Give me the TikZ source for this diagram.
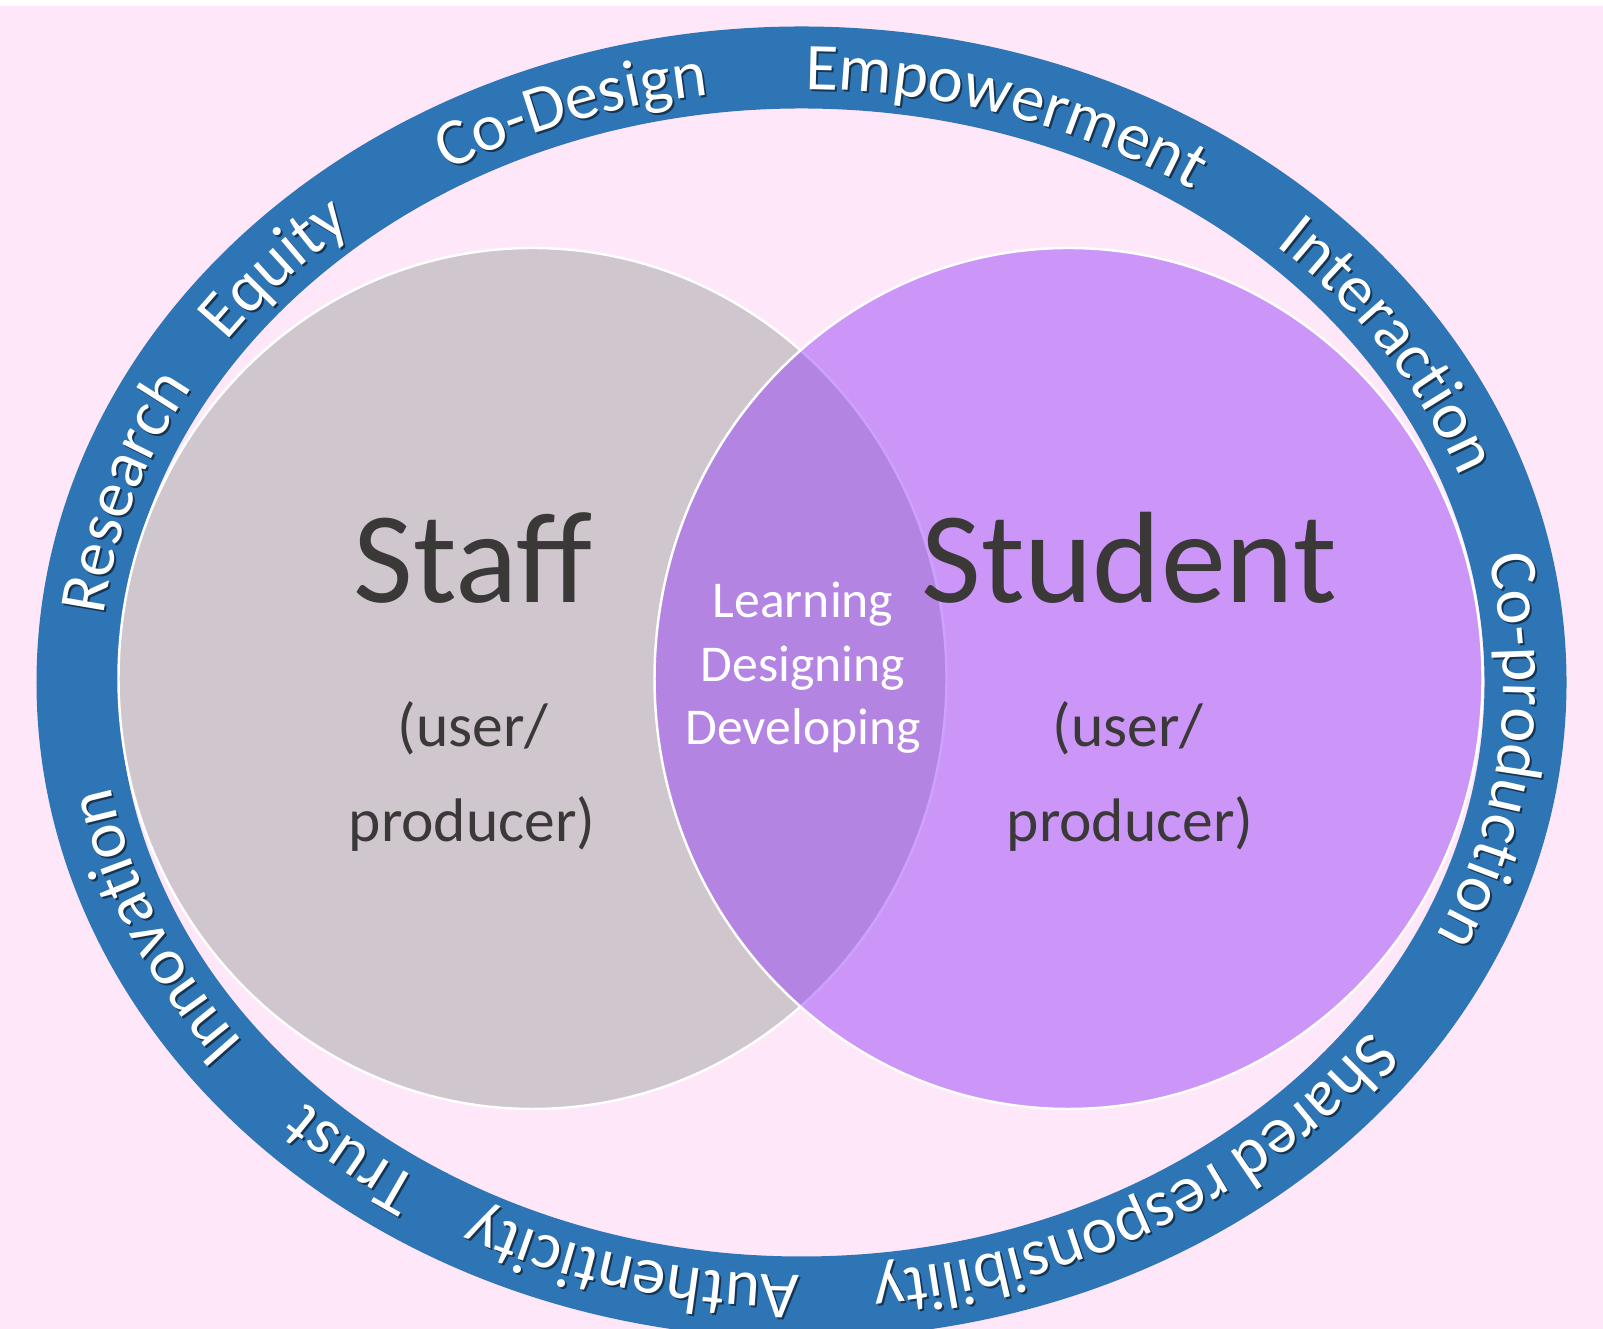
\documentclass[tikz,border=0pt]{standalone}
\usepackage{fontspec}
\setmainfont{Carlito}
\usetikzlibrary{shapes.geometric}
\usetikzlibrary{decorations.text}

\definecolor{bgpink}{HTML}{FDE7F8}
\definecolor{ringblue}{HTML}{2E75B6}
\definecolor{staffgrey}{HTML}{D0C6CE}
\definecolor{studentpurple}{HTML}{973EFA}
\definecolor{darktext}{HTML}{3B3838}

\newcommand{\ringfont}{\fontsize{19}{19}\selectfont}
\newcommand{\ringword}[2]{%
  \path[ringshadow={#2}] (#1+30:7.02 and 5.93) arc[start angle=#1+30, end angle=#1-30, x radius=7.02, y radius=5.93];
  \path[ringtext={#2}] (#1+30:7.02 and 5.93) arc[start angle=#1+30, end angle=#1-30, x radius=7.02, y radius=5.93];
}

\tikzset{
  ringtext/.style={decorate, decoration={text along path, text={|\ringfont|#1}, text align=center, text color=white}},
  ringshadow/.style={xshift=0.2mm, yshift=-0.2mm, decorate, decoration={text along path, text={|\ringfont|#1}, text align=center, text color=ringblue!45!black}},
  venn/.style={ellipse, draw=white, line width=0.7pt, inner sep=0pt, minimum width=8.28cm, minimum height=8.61cm},
  biglabel/.style={anchor=base, text=darktext, font=\fontsize{37}{37}\selectfont},
  rolelabel/.style={anchor=base, text=darktext, font=\fontsize{17.5}{17.5}\selectfont},
  midlabel/.style={anchor=base, text=white, font=\fontsize{14.7}{14.7}\selectfont},
}

\begin{document}
\begin{tikzpicture}
  \useasboundingbox (0,0) rectangle (16.03,13.29);
  \fill[bgpink] (0,0) rectangle (16.03,13.23);

  % outer ring with its words
  \begin{scope}[shift={(8.015,6.465)}]
    \draw[ringblue, line width=8.2mm] (0,0) ellipse [x radius=7.24, y radius=6.15];
    \ringword{162.5}{Research}
    \ringword{138.5}{Equity}
    \ringword{109.5}{Co-Design}
    \ringword{72.5}{Empowerment}
    \ringword{33}{Interaction}
    \ringword{-6.4}{Co-production}
    \ringword{-59.7}{Shared responsibility}
    \ringword{-104.3}{Authenticity}
    \ringword{-130}{Trust}
    \ringword{-157}{Innovation}
  \end{scope}

  % the two circles
  \node[venn, fill=staffgrey] (staffcircle) at (5.325,6.505) {};
  \node[venn, fill=studentpurple, fill opacity=0.48] (studentcircle) at (10.685,6.505) {};

  \node[biglabel] (stafflabel) at (4.73,7.26) {Staff};
  \node[rolelabel] (staffuser) at (4.73,5.82) {(user/};
  \node[rolelabel] (staffproducer) at (4.72,4.87) {producer)};

  \node[biglabel] (studentlabel) at (11.29,7.26) {Student};
  \node[rolelabel] (studentuser) at (11.28,5.82) {(user/};
  \node[rolelabel] (studentproducer) at (11.30,4.87) {producer)};

  \node[midlabel] (learning) at (8.03,7.11) {Learning};
  \node[midlabel] (designing) at (8.03,6.47) {Designing};
  \node[midlabel] (developing) at (8.03,5.84) {Developing};
\end{tikzpicture}
\end{document}
